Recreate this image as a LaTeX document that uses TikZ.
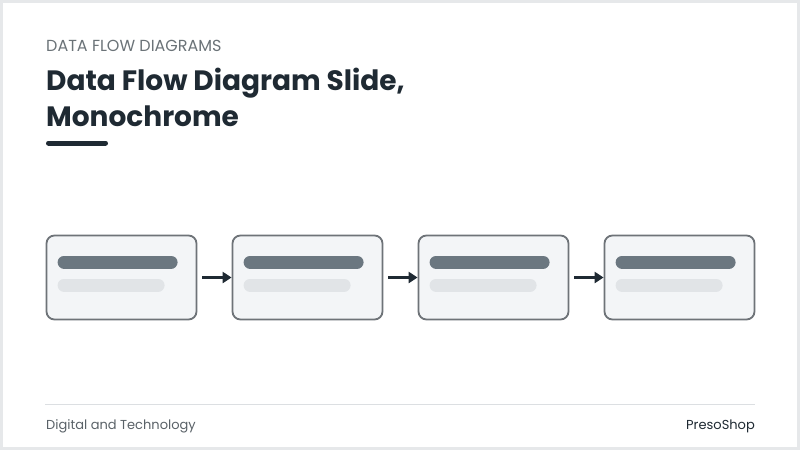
\documentclass[tikz,border=0pt]{standalone}
\usepackage{fontspec}
\setmainfont{Poppins}
\usetikzlibrary{positioning,arrows.meta}
\definecolor{slateink}{HTML}{1F2A33}
\definecolor{slatebar}{HTML}{6B7780}
\definecolor{mistbar}{HTML}{E1E4E7}
\definecolor{panelfill}{HTML}{F3F5F7}
\definecolor{edgegray}{HTML}{6E7378}
\definecolor{framegray}{HTML}{E6E8EA}
\definecolor{rulegray}{HTML}{DCDFE2}
\definecolor{labelgray}{HTML}{6B7378}
\definecolor{footgray}{HTML}{5A6268}

\begin{document}
\begin{tikzpicture}[x=1pt, y=-1pt, font=\small]
\tikzset{procbox/.style={draw=edgegray, line width=1.8pt, fill=panelfill,
                         rounded corners=8pt, minimum width=150pt,
                         minimum height=84pt, inner sep=0pt},
         flow/.style={-{Triangle[length=9pt,width=11pt]}, line width=3pt,
                      draw=slateink, shorten <=5pt},
         darkbar/.style={line width=13pt, line cap=round, draw=slatebar},
         lightbar/.style={line width=13pt, line cap=round, draw=mistbar}}

% slide frame
\useasboundingbox (0,0) rectangle (800,450);
\fill[white] (0,0) rectangle (800,450);
\draw[framegray, line width=3pt] (1.5,1.5) rectangle (798.5,448.5);

% heading
\node(kicker) [anchor=base west, inner sep=0pt, text=labelgray,
               font=\fontsize{16}{18}\selectfont] at (46,51)
  {DATA FLOW DIAGRAMS};
\node(title) [anchor=base west, inner sep=0pt, text=slateink,
              font=\fontsize{28}{32}\selectfont\bfseries] at (46,90)
  {Data Flow Diagram Slide,};
\node(subtitle) [anchor=base west, inner sep=0pt, text=slateink,
                 font=\fontsize{28}{32}\selectfont\bfseries] at (46,126)
  {Monochrome};
\draw[slateink, line width=5pt, line cap=round] (48.5,143) -- (105.5,143);

% process boxes
\node(proc1) [procbox] at (121.5,277.5) {};
\node(proc2) [procbox, right=34.2pt of proc1] {};
\node(proc3) [procbox, right=34.2pt of proc2] {};
\node(proc4) [procbox, right=34.2pt of proc3] {};

\foreach \p in {proc1,proc2,proc3,proc4}{
  \draw[darkbar] ([xshift=18.5pt, yshift=-27.5pt]\p.north west)
              -- ([xshift=125.5pt, yshift=-27.5pt]\p.north west);
  \draw[lightbar] ([xshift=18.5pt, yshift=-50.5pt]\p.north west)
               -- ([xshift=112.5pt, yshift=-50.5pt]\p.north west);
}

% flows
\draw[flow] (proc1) -- (proc2);
\draw[flow] (proc2) -- (proc3);
\draw[flow] (proc3) -- (proc4);

% footer
\draw[rulegray, line width=1pt] (45,404) -- (755,404);
\node(dept) [anchor=base west, inner sep=0pt, text=footgray,
             font=\fontsize{13}{15}\selectfont] at (46,429)
  {Digital and Technology};
\node(brand) [anchor=base east, inner sep=0pt, text=slateink,
              font=\fontsize{13}{15}\selectfont] at (755,429)
  {PresoShop};
\end{tikzpicture}
\end{document}
